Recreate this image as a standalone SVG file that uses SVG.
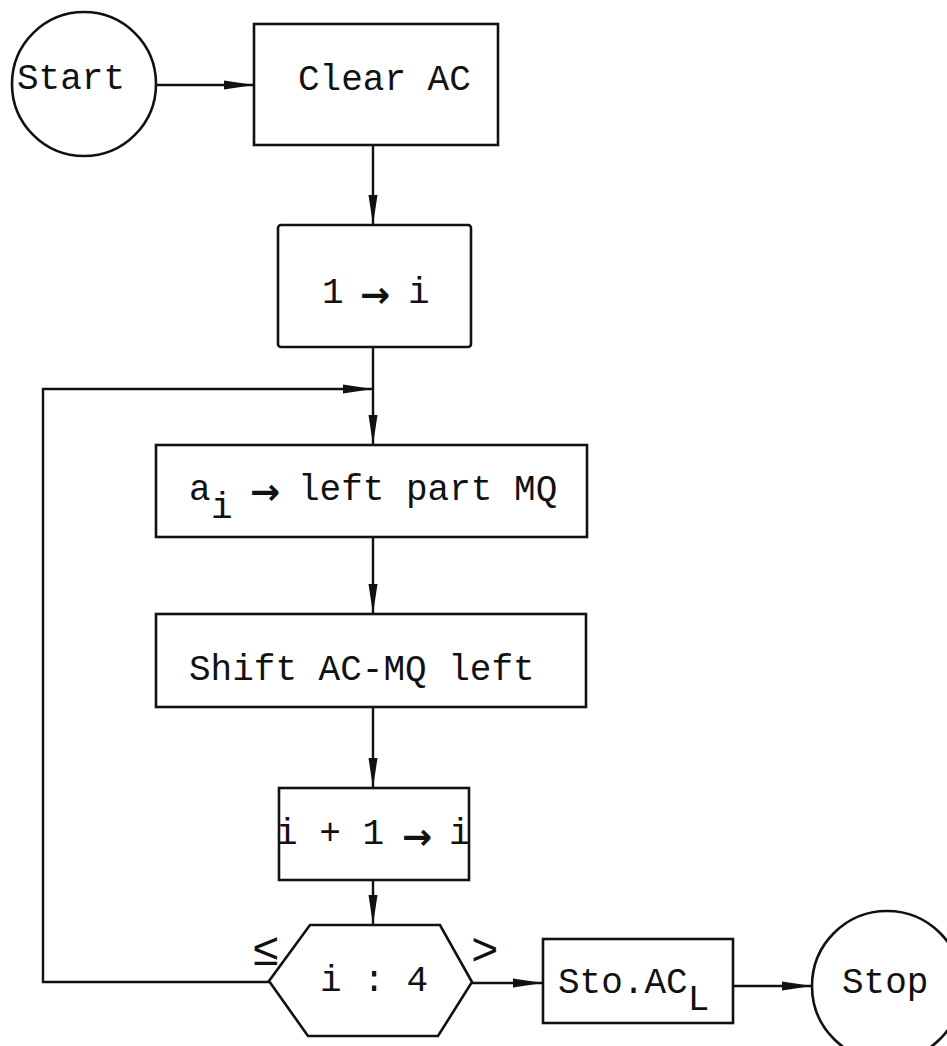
<svg xmlns="http://www.w3.org/2000/svg" width="947" height="1046" viewBox="0 0 947 1046">
<style>
.shape{fill:none;stroke:#111;stroke-width:2.6}
.conn{fill:none;stroke:#111;stroke-width:2.4}
.t{font-family:"Liberation Mono","DejaVu Sans Mono",monospace;font-size:36px;fill:#111}
.ar{font-family:"DejaVu Sans",sans-serif;font-weight:bold;font-size:36px}
.sym{font-size:46px}
</style>
<defs>
<marker id="ah" viewBox="0 0 30 10" refX="30" refY="5" markerWidth="30" markerHeight="10" markerUnits="userSpaceOnUse" orient="auto">
<path d="M0,0.5 L30,5 L0,9.5 z" fill="#111"/>
</marker>
</defs>
<rect width="947" height="1046" fill="#fff"/>
<g id="connectors">
<path class="conn" d="M156,85 H254" marker-end="url(#ah)"/>
<path class="conn" d="M373,145 V225" marker-end="url(#ah)"/>
<path class="conn" d="M373,347 V445" marker-end="url(#ah)"/>
<path class="conn" d="M269,982 H43 V389 H373" marker-end="url(#ah)"/>
<path class="conn" d="M373,537 V614" marker-end="url(#ah)"/>
<path class="conn" d="M373,707 V788" marker-end="url(#ah)"/>
<path class="conn" d="M373,880 V925" marker-end="url(#ah)"/>
<path class="conn" d="M472,983 H543" marker-end="url(#ah)"/>
<path class="conn" d="M733,986 H812" marker-end="url(#ah)"/>
</g>
<g id="start">
<circle class="shape" cx="84" cy="84" r="72"/>
<text class="t" x="17" y="89">Start</text>
</g>
<g id="clear">
<rect class="shape" x="254" y="24" width="244" height="121"/>
<text class="t" x="298" y="90">Clear AC</text>
</g>
<g id="init">
<rect class="shape" x="278" y="225" width="193" height="122" rx="3"/>
<text class="t" x="322" y="303">1<tspan class="ar" x="360" y="307">→</tspan><tspan x="408" y="303">i</tspan></text>
</g>
<g id="load">
<rect class="shape" x="156" y="445" width="431" height="92"/>
<text class="t" x="189" y="500">a<tspan x="211" y="518">i</tspan><tspan class="ar" x="250" y="504">→</tspan><tspan x="298" y="500">left part MQ</tspan></text>
</g>
<g id="shift">
<rect class="shape" x="156" y="614" width="430" height="93"/>
<text class="t" x="189" y="680">Shift AC-MQ left</text>
</g>
<g id="incr">
<rect class="shape" x="279" y="788" width="190" height="92"/>
<text class="t" x="276" y="844">i + 1<tspan class="ar" x="402" y="849">→</tspan><tspan x="449" y="844">i</tspan></text>
</g>
<g id="test">
<polygon class="shape" points="310,925 440,925 472,982 438,1036 308,1036 269,981"/>
<text class="t" x="320" y="991">i : 4</text>
<text class="t sym" x="252" y="965">≤</text>
<text class="t sym" x="471" y="965">&gt;</text>
</g>
<g id="store">
<rect class="shape" x="543" y="939" width="190" height="84"/>
<text class="t" x="558" y="993">Sto.AC<tspan dy="17">L</tspan></text>
</g>
<g id="stop">
<circle class="shape" cx="887" cy="986" r="75"/>
<text class="t" x="842" y="993">Stop</text>
</g>
</svg>
